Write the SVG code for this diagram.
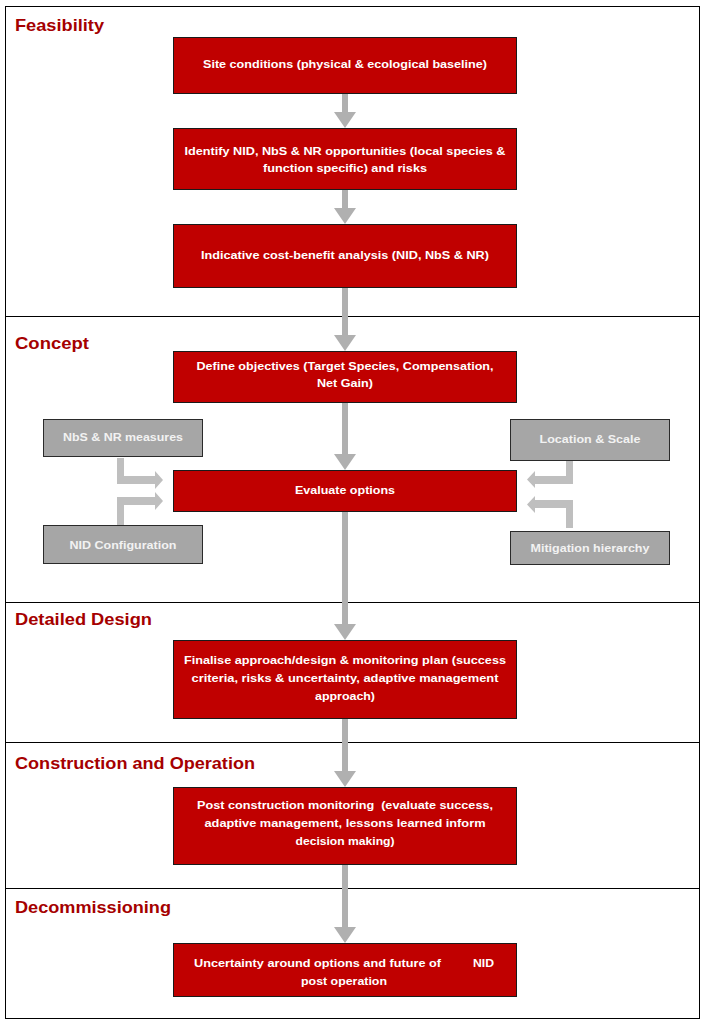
<svg xmlns="http://www.w3.org/2000/svg" width="706" height="1025" viewBox="0 0 706 1025">
<defs>
<style>
.frame{fill:#fff;stroke:#000;stroke-width:1}
.div{stroke:#000;stroke-width:1}
.red{fill:#C00000;stroke:#1a1a1a;stroke-width:1}
.gray{fill:#A6A6A6;stroke:#2a2a2a;stroke-width:1}
.t{font-family:"Liberation Sans",Arial,sans-serif;font-weight:bold;font-size:11.5px;fill:#fff;text-anchor:middle}
.g{font-family:"Liberation Sans",Arial,sans-serif;font-weight:bold;font-size:11.5px;fill:#f2f2f2;text-anchor:middle}
.h{font-family:"Liberation Sans",Arial,sans-serif;font-weight:bold;font-size:17px;fill:#A50000}
.arr{fill:#B0B0B0}
.elb{fill:#BFBFBF}
</style>
</defs>
<rect class="frame" x="5.5" y="6.5" width="694" height="1012"/>
<g id="dividers">
<line class="div" x1="5" y1="316.5" x2="700" y2="316.5"/>
<line class="div" x1="5" y1="602.5" x2="700" y2="602.5"/>
<line class="div" x1="5" y1="742.5" x2="700" y2="742.5"/>
<line class="div" x1="5" y1="888.5" x2="700" y2="888.5"/>
</g>
<g id="headers">
<text class="h" x="15" y="31" textLength="89" lengthAdjust="spacingAndGlyphs">Feasibility</text>
<text class="h" x="15" y="349" textLength="74" lengthAdjust="spacingAndGlyphs">Concept</text>
<text class="h" x="15" y="625" textLength="137" lengthAdjust="spacingAndGlyphs">Detailed Design</text>
<text class="h" x="15" y="769" textLength="240" lengthAdjust="spacingAndGlyphs">Construction and Operation</text>
<text class="h" x="15" y="913" textLength="156" lengthAdjust="spacingAndGlyphs">Decommissioning</text>
</g>
<g id="connectors">
<path class="arr" d="M342,93 h6 v19 h8 l-11,16 l-11,-16 h8 z"/>
<path class="arr" d="M342,189 h6 v19 h8 l-11,16 l-11,-16 h8 z"/>
<path class="arr" d="M342,287 h6 v48 h8 l-11,16 l-11,-16 h8 z"/>
<path class="arr" d="M342,402 h6 v52 h8 l-11,16 l-11,-16 h8 z"/>
<path class="arr" d="M342,511 h6 v113 h8 l-11,16 l-11,-16 h8 z"/>
<path class="arr" d="M342,718 h6 v53 h8 l-11,16 l-11,-16 h8 z"/>
<path class="arr" d="M342,864 h6 v63 h8 l-11,16 l-11,-16 h8 z"/>
<path class="elb" d="M117,458 H124 V476 H155 V471 L163,480 L155,489 V484 H117 Z"/>
<path class="elb" d="M117,525 H124 V505 H155 V510 L163,501 L155,492 V497 H117 Z"/>
<path class="elb" d="M573,460 H566 V476 H535 V471 L527,479.5 L535,488 V484 H573 Z"/>
<path class="elb" d="M573,528 H566 V508 H535 V513 L527,504.5 L535,496 V500 H573 Z"/>
</g>
<g id="site-conditions">
<rect class="red" x="173.5" y="37.5" width="343" height="56"/>
<text class="t" x="345" y="68" textLength="284" lengthAdjust="spacingAndGlyphs">Site conditions (physical &amp; ecological baseline)</text>
</g>
<g id="identify">
<rect class="red" x="173.5" y="128.5" width="343" height="61"/>
<text class="t" x="345" y="155" textLength="321" lengthAdjust="spacingAndGlyphs">Identify NID, NbS &amp; NR opportunities (local species &amp;</text>
<text class="t" x="345" y="172" textLength="164" lengthAdjust="spacingAndGlyphs">function specific) and risks</text>
</g>
<g id="cost-benefit">
<rect class="red" x="173.5" y="224.5" width="343" height="63"/>
<text class="t" x="345" y="259" textLength="288" lengthAdjust="spacingAndGlyphs">Indicative cost-benefit analysis (NID, NbS &amp; NR)</text>
</g>
<g id="define-objectives">
<rect class="red" x="173.5" y="351.5" width="343" height="51"/>
<text class="t" x="345" y="370" textLength="297" lengthAdjust="spacingAndGlyphs">Define objectives (Target Species, Compensation,</text>
<text class="t" x="345" y="387" textLength="56" lengthAdjust="spacingAndGlyphs">Net Gain)</text>
</g>
<g id="evaluate-options">
<rect class="red" x="173.5" y="470.5" width="343" height="41"/>
<text class="t" x="345" y="494" textLength="100" lengthAdjust="spacingAndGlyphs">Evaluate options</text>
</g>
<g id="nbs-nr-measures">
<rect class="gray" x="43.5" y="419.5" width="159" height="37"/>
<text class="g" x="123" y="441" textLength="120" lengthAdjust="spacingAndGlyphs">NbS &amp; NR measures</text>
</g>
<g id="nid-configuration">
<rect class="gray" x="43.5" y="525.5" width="159" height="38"/>
<text class="g" x="123" y="549" textLength="107" lengthAdjust="spacingAndGlyphs">NID Configuration</text>
</g>
<g id="location-scale">
<rect class="gray" x="510.5" y="419.5" width="159" height="41"/>
<text class="g" x="590" y="443" textLength="101" lengthAdjust="spacingAndGlyphs">Location &amp; Scale</text>
</g>
<g id="mitigation-hierarchy">
<rect class="gray" x="510.5" y="531.5" width="159" height="33"/>
<text class="g" x="590" y="552" textLength="119" lengthAdjust="spacingAndGlyphs">Mitigation hierarchy</text>
</g>
<g id="finalise-approach">
<rect class="red" x="173.5" y="640.5" width="343" height="78"/>
<text class="t" x="345" y="664" textLength="322" lengthAdjust="spacingAndGlyphs">Finalise approach/design &amp; monitoring plan (success</text>
<text class="t" x="345" y="682" textLength="307" lengthAdjust="spacingAndGlyphs">criteria, risks &amp; uncertainty, adaptive management</text>
<text class="t" x="345" y="700" textLength="60" lengthAdjust="spacingAndGlyphs">approach)</text>
</g>
<g id="post-construction">
<rect class="red" x="173.5" y="787.5" width="343" height="77"/>
<text class="t" x="345" y="809" style="white-space:pre" textLength="296" lengthAdjust="spacingAndGlyphs">Post construction monitoring  (evaluate success,</text>
<text class="t" x="345" y="827" textLength="281" lengthAdjust="spacingAndGlyphs">adaptive management, lessons learned inform</text>
<text class="t" x="345" y="845" textLength="99" lengthAdjust="spacingAndGlyphs">decision making)</text>
</g>
<g id="uncertainty">
<rect class="red" x="173.5" y="943.5" width="343" height="53"/>
<text class="t" x="194" y="967" style="text-anchor:start" textLength="247" lengthAdjust="spacingAndGlyphs">Uncertainty around options and future of</text>
<text class="t" x="473" y="967" style="text-anchor:start" textLength="21" lengthAdjust="spacingAndGlyphs">NID</text>
<text class="t" x="344" y="985" textLength="86" lengthAdjust="spacingAndGlyphs">post operation</text>
</g>
</svg>
